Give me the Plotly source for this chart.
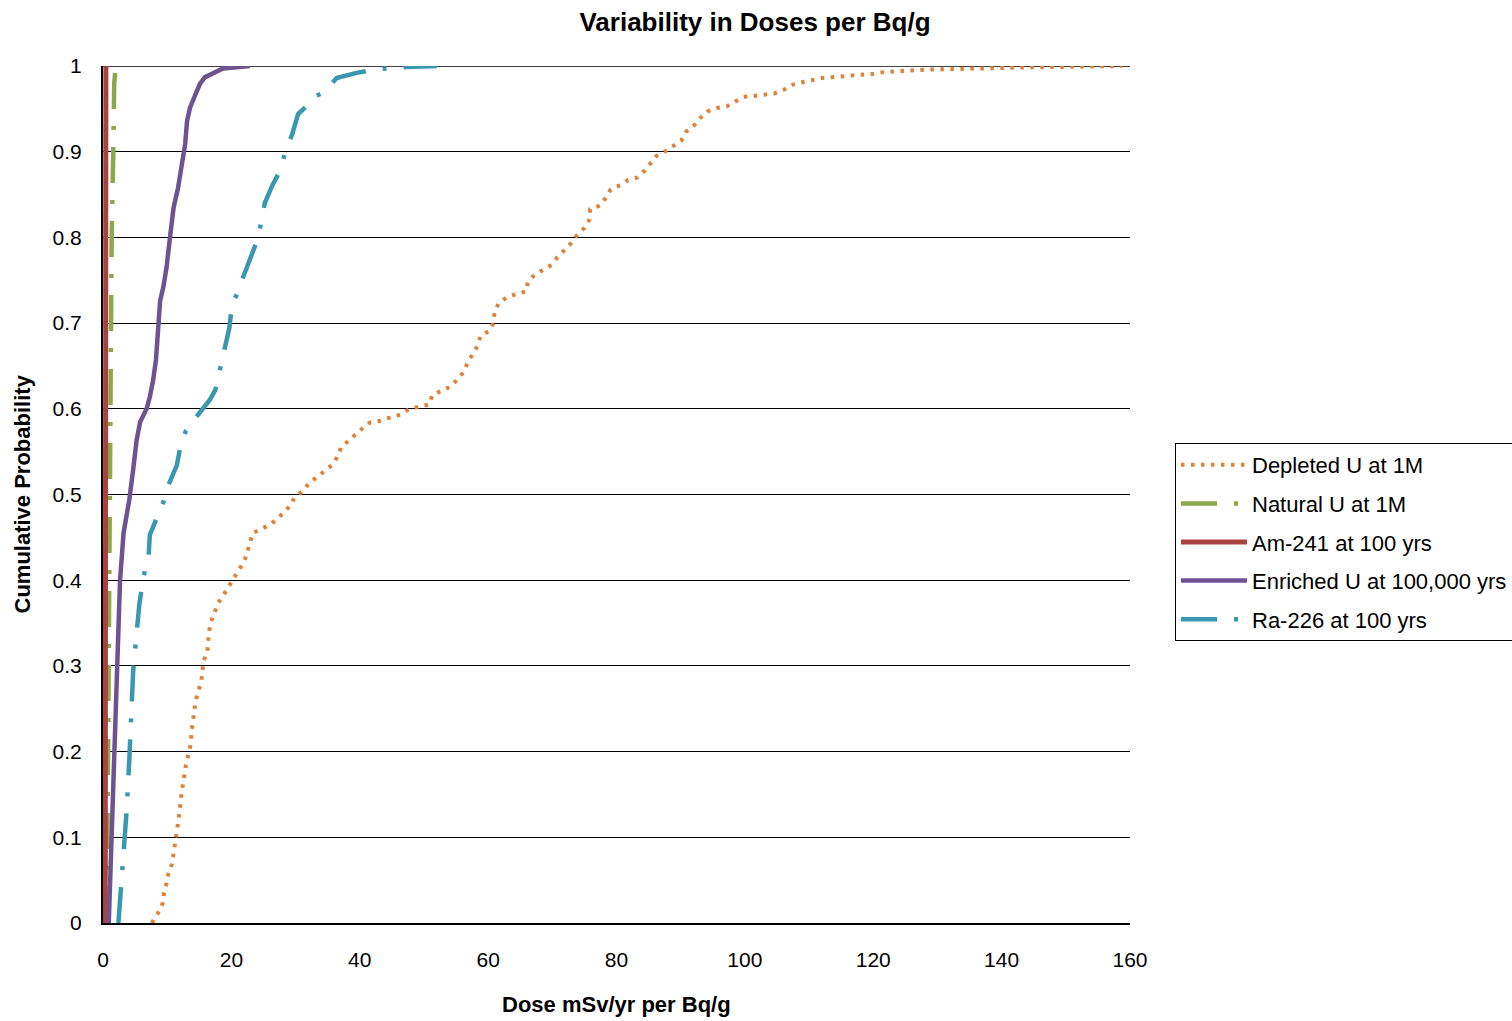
import plotly.graph_objects as go

# ---------------- data ----------------
depleted_x = [7.6, 8.6, 9.3, 9.5, 9.9, 10.2, 10.75, 10.95, 11.3, 11.5, 11.7, 11.9, 12.0, 12.25,
              12.5, 12.7, 13.0, 13.4, 13.7, 13.8, 14.0, 14.2, 14.4, 14.8, 15.3, 15.5, 15.6, 16.25,
              16.35, 16.5, 16.8, 17.3, 17.9, 18.8, 19.6, 20.4, 21.1, 22.0, 22.5, 22.9, 23.3, 24.7,
              26.1, 27.2, 28.2, 29.2, 29.8, 31.1, 32.1, 33.3, 34.6, 35.8, 36.6, 37.1, 38.3, 39.3,
              40.4, 41.6, 43.2, 44.8, 46.3, 47.7, 49.3, 50.8, 51.3, 52.8, 54.2, 55.3, 56.2, 56.8,
              57.5, 58.4, 58.8, 60.2, 60.8, 61.0, 61.6, 62.9, 64.4, 65.9, 66.2, 67.2, 68.5, 69.9,
              70.8, 71.8, 72.9, 73.9, 75.0, 75.8, 75.9, 77.4, 78.3, 79.1, 80.6, 81.8, 83.3, 84.4,
              85.2, 86.2, 87.5, 88.7, 90.1, 90.8, 92.0, 93.0, 94.2, 95.7, 97.2, 98.6, 99.8, 101.3,
              103.0, 104.6, 106.0, 107.4, 108.9, 110.5, 112.1, 113.6, 115.2, 116.9, 118.4, 120.1,
              121.7, 123.3, 124.9, 126.5, 128.1, 129.7, 131.3, 132.9, 134.6, 140.0, 145.0, 150.0,
              155.0, 158.8]
depleted_p = [0.0, 0.012, 0.023, 0.035, 0.046, 0.058, 0.069, 0.081, 0.093, 0.105, 0.117, 0.128,
              0.140, 0.152, 0.164, 0.176, 0.188, 0.199, 0.211, 0.223, 0.235, 0.247, 0.258, 0.270,
              0.281, 0.293, 0.305, 0.316, 0.327, 0.339, 0.351, 0.362, 0.373, 0.383, 0.393, 0.402,
              0.413, 0.422, 0.433, 0.444, 0.455, 0.460, 0.465, 0.472, 0.479, 0.487, 0.496, 0.504,
              0.513, 0.520, 0.527, 0.535, 0.545, 0.555, 0.563, 0.570, 0.577, 0.584, 0.586, 0.590,
              0.593, 0.600, 0.602, 0.605, 0.616, 0.621, 0.626, 0.635, 0.643, 0.654, 0.663, 0.674,
              0.685, 0.691, 0.700, 0.712, 0.723, 0.730, 0.734, 0.737, 0.748, 0.756, 0.762, 0.768,
              0.777, 0.785, 0.793, 0.803, 0.811, 0.821, 0.833, 0.837, 0.846, 0.856, 0.861, 0.867,
              0.870, 0.878, 0.886, 0.895, 0.900, 0.906, 0.913, 0.923, 0.930, 0.939, 0.947, 0.951,
              0.953, 0.959, 0.964, 0.965, 0.966, 0.968, 0.972, 0.978, 0.981, 0.984, 0.986, 0.987,
              0.988, 0.989, 0.989, 0.991, 0.993, 0.994, 0.9945, 0.995, 0.9957, 0.996, 0.9965,
              0.997, 0.997, 0.998, 0.9985, 0.999, 0.9995, 1.0]

natural_x = [0.6, 0.7, 0.8, 0.85, 0.9, 0.95, 1.1, 1.2, 1.35, 1.6, 1.65, 1.75, 2.0]
natural_p = [0.0, 0.1, 0.2, 0.3, 0.4, 0.5, 0.6, 0.7, 0.8, 0.9, 0.95, 0.98, 1.0]

am241_x = [0.35, 0.4, 0.45]
am241_p = [0.0, 0.5, 1.0]

enriched_x = [0.9, 1.1, 1.45, 1.6, 1.87, 2.1, 2.3, 2.65, 3.2, 4.1, 4.7, 5.25, 5.8, 6.8, 7.3,
              7.8, 8.25, 8.6, 8.9, 9.4, 9.9, 10.5, 11.0, 11.7, 12.3, 12.8, 13.1, 13.55, 14.3,
              15.1, 15.9, 17.2, 18.7, 22.9]
enriched_p = [0.0, 0.048, 0.117, 0.165, 0.233, 0.295, 0.35, 0.399, 0.455, 0.494, 0.529, 0.564,
              0.585, 0.600, 0.614, 0.633, 0.657, 0.695, 0.726, 0.742, 0.765, 0.804, 0.835,
              0.858, 0.889, 0.909, 0.936, 0.951, 0.965, 0.979, 0.987, 0.992, 0.997, 1.0]

ra226_x = [2.4, 2.9, 3.4, 3.7, 4.1, 4.5, 4.7, 5.25, 5.66, 6.3, 7.1, 7.3, 8.6, 9.4, 10.2, 11.5,
           12.0, 12.9, 14.7, 16.6, 17.5, 18.3, 18.85, 19.7, 20.1, 20.9, 21.9, 23.1, 24.0, 24.6,
           25.2, 26.4, 27.6, 28.35, 29.5, 30.4, 32.0, 32.8, 34.4, 36.4, 39.5, 42.6, 45.2, 48.3,
           52.0]
ra226_p = [0.0, 0.048, 0.1, 0.133, 0.191, 0.249, 0.294, 0.339, 0.372, 0.404, 0.428, 0.453,
           0.475, 0.491, 0.511, 0.534, 0.554, 0.574, 0.592, 0.610, 0.622, 0.649, 0.672, 0.695,
           0.722, 0.734, 0.755, 0.777, 0.796, 0.816, 0.840, 0.861, 0.878, 0.898, 0.921, 0.944,
           0.955, 0.964, 0.969, 0.986, 0.992, 0.996, 0.998, 0.999, 1.0]

x_ticks = [0, 20, 40, 60, 80, 100, 120, 140, 160]
y_ticks = [0, 0.1, 0.2, 0.3, 0.4, 0.5, 0.6, 0.7, 0.8, 0.9, 1]
y_tick_labels = ["0", "0.1", "0.2", "0.3", "0.4", "0.5", "0.6", "0.7", "0.8", "0.9", "1"]

names = ["Depleted U at 1M", "Natural U at 1M", "Am-241 at 100 yrs",
         "Enriched U at 100,000 yrs", "Ra-226 at 100 yrs"]

# ---------------- figure ----------------
FONT = "Liberation Sans, Arial, sans-serif"
ldd = "36px,17px,4px,17px"

series = [
    (depleted_x, depleted_p, "#DC823A", 4, "3.5px,6.5px"),
    (natural_x, natural_p, "#8CA84C", 4.5, ldd),
    (am241_x, am241_p, "#A8423F", 5, "solid"),
    (enriched_x, enriched_p, "#6E5393", 4.5, "solid"),
    (ra226_x, ra226_p, "#3A97B0", 4.5, ldd),
]

fig = go.Figure()
for i, (xs, ps, col, w, dash) in enumerate(series):
    fig.add_trace(go.Scatter(
        x=xs, y=ps, mode="lines", name=names[i], legendgroup=f"g{i}",
        line=dict(color=col, width=w, dash=dash),
    ))

fig.update_layout(
    width=1512, height=1021,
    margin=dict(l=103, r=382, t=66, b=98, autoexpand=False),
    paper_bgcolor="white", plot_bgcolor="white",
    font=dict(family=FONT, size=21, color="black"),
    title=dict(text="<b>Variability in Doses per Bq/g</b>", x=755 / 1512, xref="container",
               y=1 - 22 / 1021, yref="container", yanchor="middle", xanchor="center",
               font=dict(size=26, family=FONT, color="black")),
    showlegend=True,
    legend=dict(x=(1175 - 103) / 1027, y=(923 - 443) / 857, xanchor="left", yanchor="top",
                bordercolor="black", borderwidth=1, bgcolor="white",
                font=dict(size=22, family=FONT, color="black"),
                itemwidth=66, tracegroupgap=7),
    xaxis=dict(range=[0, 160], tickvals=x_ticks, showgrid=False, zeroline=False,
               showline=True, linecolor="black", linewidth=2, ticks="",
               ticklabelstandoff=17, tickfont=dict(size=21)),
    yaxis=dict(range=[0, 1], tickvals=y_ticks, ticktext=y_tick_labels, showgrid=True,
               gridcolor="black", gridwidth=1.3, zeroline=False, showline=True,
               linecolor="black", linewidth=2, ticks="", ticklabelstandoff=15,
               tickfont=dict(size=21)),
    shapes=[dict(type="line", xref="paper", yref="y", x0=0, x1=1, y0=1, y1=1,
                 line=dict(color="black", width=1.3), layer="below")],
    annotations=[
        dict(text="<b>Dose mSv/yr per Bq/g</b>", xref="paper", yref="paper",
             x=0.5, y=(923 - 1004) / 857, xanchor="center", yanchor="middle",
             showarrow=False, font=dict(size=22, family=FONT, color="black")),
        dict(text="<b>Cumulative Probability</b>", xref="paper", yref="paper",
             x=(22 - 103) / 1027, y=0.5, xanchor="center", yanchor="middle", textangle=-90,
             showarrow=False, font=dict(size=22, family=FONT, color="black")),
    ],
)

fig.write_html("out.html")
